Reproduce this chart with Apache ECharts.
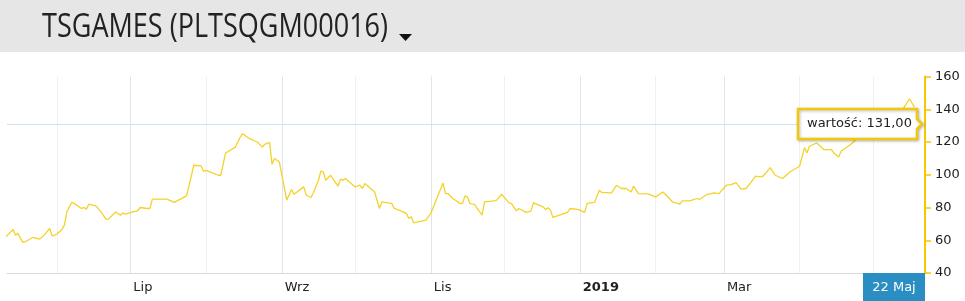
<!DOCTYPE html>
<html><head><meta charset="utf-8">
<script src="https://cdn.jsdelivr.net/npm/echarts@6/dist/echarts.min.js"></script>
<style>html,body{margin:0;padding:0;background:#fff}#c{width:965px;height:301px}</style>
</head><body><div id="c"></div>
<script>
const titleText = 'TSGAMES (PLTSQGM00016)';
const dates = [
'2018-05-11','2018-05-14','2018-05-15','2018-05-16','2018-05-17','2018-05-18','2018-05-19','2018-05-22','2018-05-25','2018-05-27','2018-05-29','2018-05-30',
'2018-06-01','2018-06-03','2018-06-04','2018-06-05','2018-06-07','2018-06-08','2018-06-11','2018-06-12','2018-06-13','2018-06-14','2018-06-17','2018-06-19','2018-06-21','2018-06-22','2018-06-25','2018-06-27','2018-06-28','2018-06-29',
'2018-07-02','2018-07-04','2018-07-05','2018-07-08','2018-07-09','2018-07-10','2018-07-13','2018-07-16','2018-07-19','2018-07-24','2018-07-27','2018-07-30','2018-07-31',
'2018-08-01','2018-08-06','2018-08-07','2018-08-09','2018-08-13','2018-08-15','2018-08-16','2018-08-18','2018-08-21','2018-08-22','2018-08-24','2018-08-25','2018-08-27','2018-08-28','2018-08-29','2018-08-31',
'2018-09-03','2018-09-05','2018-09-06','2018-09-10','2018-09-11','2018-09-13','2018-09-14','2018-09-16','2018-09-17','2018-09-18','2018-09-19','2018-09-21','2018-09-24','2018-09-25','2018-09-26','2018-09-27',
'2018-10-01','2018-10-03','2018-10-04','2018-10-05','2018-10-09','2018-10-11','2018-10-12','2018-10-16','2018-10-17','2018-10-19','2018-10-22','2018-10-23','2018-10-24','2018-10-25','2018-10-30',
'2018-11-01','2018-11-06','2018-11-07','2018-11-08','2018-11-10','2018-11-13','2018-11-14','2018-11-15','2018-11-16','2018-11-17','2018-11-19','2018-11-20','2018-11-22','2018-11-23','2018-11-27','2018-11-28','2018-11-30',
'2018-12-03','2018-12-04','2018-12-06','2018-12-07','2018-12-10','2018-12-12','2018-12-13','2018-12-17','2018-12-18','2018-12-19','2018-12-20','2018-12-21','2018-12-27','2018-12-28','2018-12-31',
'2019-01-01','2019-01-03','2019-01-04','2019-01-07','2019-01-09','2019-01-10','2019-01-13','2019-01-14','2019-01-16','2019-01-18','2019-01-20','2019-01-22','2019-01-23','2019-01-25','2019-01-29',
'2019-02-01','2019-02-04','2019-02-05','2019-02-08','2019-02-11','2019-02-12','2019-02-15','2019-02-18','2019-02-19','2019-02-22','2019-02-25','2019-02-27',
'2019-03-02','2019-03-04','2019-03-06','2019-03-08','2019-03-10','2019-03-12','2019-03-14','2019-03-16','2019-03-17','2019-03-20','2019-03-22','2019-03-25','2019-03-28',
'2019-04-01','2019-04-03','2019-04-04','2019-04-05','2019-04-08','2019-04-09','2019-04-11','2019-04-14','2019-04-15','2019-04-17','2019-04-18','2019-04-22','2019-04-24','2019-04-28',
'2019-05-02','2019-05-06','2019-05-10','2019-05-13','2019-05-16','2019-05-18'
];
const values = [
62.1,66.6,63.1,64.2,61.1,58.7,59.1,61.7,60.7,63.6,67.2,62.5,
63.8,66.6,69.2,77.3,83.1,82.5,79.4,80.0,79.0,82.0,80.8,77.3,72.9,72.9,77.3,75.3,76.7,75.9,
77.3,77.9,80.0,79.4,79.4,85.1,85.1,85.1,83.1,87.1,105.8,105.4,102.1,
102.7,99.7,99.7,113.3,116.9,123.0,125.1,122.7,120.6,120.0,116.9,118.6,119.8,106.4,109.9,107.8,
84.5,91.0,88.1,92.6,87.5,86.1,89.2,96.6,102.3,101.7,96.6,99.7,93.0,97.3,96.6,97.7,
92.6,93.6,91.6,94.6,89.5,79.4,83.4,82.5,79.4,78.4,76.4,73.3,74.3,70.6,72.3,
76.4,95.0,88.5,88.5,85.5,82.5,82.5,87.1,86.5,82.5,81.8,79.4,75.3,83.4,84.0,84.5,88.1,
82.8,82.5,78.0,79.4,77.0,77.8,82.8,80.4,78.8,79.8,78.4,73.9,77.0,79.4,78.8,
78.4,77.0,82.5,83.1,90.6,89.2,88.9,88.9,93.6,91.6,91.6,89.5,93.0,88.5,88.3,
86.5,89.5,88.1,83.4,82.0,84.0,84.0,85.5,84.9,87.9,88.9,88.5,
93.6,94.0,95.2,91.2,91.6,95.2,99.1,98.7,99.1,104.4,99.7,97.7,101.7,
105.2,116.6,113.3,117.4,119.4,118.0,115.3,115.3,113.3,110.8,114.3,118.6,121.4,124.7,
128.3,131.4,135.0,139.3,146.4,141.3
];
const gridMonthsMajor = ['2018-07-01','2018-09-01','2018-11-01','2019-01-01','2019-03-01'];
const gridMonthsMinor = ['2018-06-01','2018-08-01','2018-10-01','2018-12-01','2019-02-01','2019-04-01','2019-05-01'];
const monthNames = {6:'Lip', 8:'Wrz', 10:'Lis', 2:'Mar'};
const yMin = 40, yMax = 160, yStep = 20;
const cursorValue = 131;
const cursorText = 'wartość: 131,00';
const cursorDate = '22 Maj';
const axisStart = '2018-05-11T12:00:00';
const axisEnd = '2019-05-22T08:00:00';

function ts(s) { return new Date(s.length <= 10 ? s + 'T00:00:00' : s).getTime(); }

const chart = echarts.init(document.getElementById('c'), null, {renderer:'canvas'});
const font = 'DejaVu Sans';
const markData = [];
gridMonthsMinor.forEach(d => markData.push({xAxis: ts(d), lineStyle:{color:'#eef0f3', width:1, type:'solid'}}));
gridMonthsMajor.forEach(d => markData.push({xAxis: ts(d), lineStyle:{color:'#dfe4ea', width:1, type:'solid'}}));
markData.push({yAxis: cursorValue, lineStyle:{color:'#cfe0ee', width:1, type:'solid'}});

chart.setOption({
  animation: false,
  grid: {left: 7, right: 40, top: 76.5, bottom: 28},
  xAxis: {
    type: 'value', min: ts(axisStart), max: ts(axisEnd),
    axisLine: {show: true, lineStyle: {color: '#d9d9d9', width: 1}},
    axisTick: {show: false},
    splitLine: {show: false},
    axisLabel: {
      customValues: gridMonthsMajor.map(ts),
      align: 'left', margin: 8, padding: [0,0,0,3],
      color: '#222', fontFamily: font, fontSize: 13,
      formatter: function (v) {
        const dt = new Date(v);
        const m = dt.getMonth();
        if (m === 0) return '{b|' + dt.getFullYear() + '}';
        return monthNames[m] || '';
      },
      rich: {b: {fontWeight: 'bold', fontFamily: font, fontSize: 13, color: '#222'}}
    }
  },
  yAxis: {
    type: 'value', position: 'right', min: yMin, max: yMax, interval: yStep,
    axisLine: {show: true, lineStyle: {color: '#f5c800', width: 2}},
    axisTick: {show: true, length: 6, lineStyle: {color: '#f5c800', width: 1.5}},
    axisLabel: {margin: 10, color: '#222', fontFamily: font, fontSize: 13},
    splitLine: {show: false}
  },
  series: [{
    type: 'line',
    data: dates.map((d, i) => [ts(d), values[i]]),
    showSymbol: false, symbol: 'none',
    lineStyle: {color: '#f4d22a', width: 1.3},
    z: 3,
    markLine: {silent: true, symbol: ['none','none'], label: {show: false}, data: markData, z: 1, animation: false}
  }]
});

const cy = chart.convertToPixel({yAxisIndex: 0}, cursorValue);
const gridRight = 965 - 40;
const gridBottom = 301 - 28;
chart.setOption({
  graphic: [
    {type: 'rect', shape: {x: 0, y: 0, width: 965, height: 52}, style: {fill: '#e6e6e6'}, z: 10},
    {type: 'text', x: 42, y: 28, scaleX: 0.845, style: {text: titleText, font: '400 32px "Open Sans"', fill: '#222', verticalAlign: 'middle'}, z: 11},
    {type: 'polygon', shape: {points: [[399, 34], [412, 34], [405.5, 41]]}, style: {fill: '#111'}, z: 11},
    {type: 'polygon', z: 20, shape: {points: [[gridRight - 127, cy - 15], [gridRight - 8, cy - 15], [gridRight - 8, cy - 5], [gridRight - 3, cy], [gridRight - 8, cy + 5], [gridRight - 8, cy + 15], [gridRight - 127, cy + 15]]},
      style: {fill: '#fff', stroke: '#f2c80c', lineWidth: 2.5, shadowBlur: 3, shadowColor: 'rgba(0,0,0,0.25)', shadowOffsetX: 1, shadowOffsetY: 1}},
    {type: 'text', z: 21, x: gridRight - 118, y: cy, style: {text: cursorText, fontFamily: font, fontSize: 13, fill: '#222', verticalAlign: 'middle'}},
    {type: 'rect', z: 20, shape: {x: gridRight - 62, y: gridBottom, width: 62, height: 301 - gridBottom}, style: {fill: '#2b8ec3'}},
    {type: 'text', z: 21, x: gridRight - 31, y: gridBottom + 15, style: {text: cursorDate, fontFamily: font, fontSize: 13, fill: '#fff', align: 'center', verticalAlign: 'middle'}}
  ]
});
</script></body></html>
